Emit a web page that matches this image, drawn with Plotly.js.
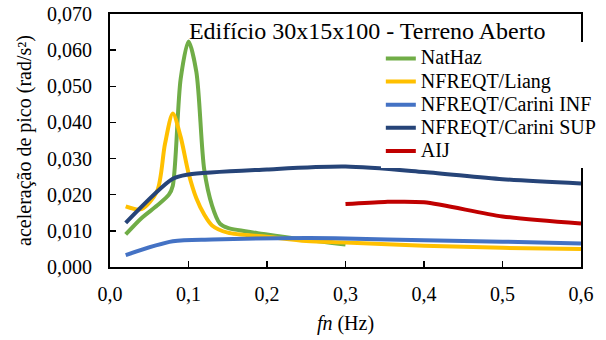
<!DOCTYPE html>
<html>
<head>
<meta charset="utf-8">
<script src="https://cdn.plot.ly/plotly-3.0.1.min.js"></script>
<style>html,body{margin:0;padding:0;background:#fff;}#chart{width:606px;height:340px;}
#warm{position:absolute;left:0;top:0;font-family:"Liberation Serif";font-size:20px;color:#fff;z-index:-1;}
#chart svg text{font-family:"Liberation Serif","Times New Roman",serif !important;}</style>
</head>
<body>
<div id="warm">Edifício 0,070 <i>fn</i> ²</div>
<div id="chart"></div>
<script>
// Series data (frequency in Hz, peak acceleration in rad/s2)
const natHazX = [0.02, 0.04, 0.06, 0.075, 0.08, 0.09, 0.10, 0.11, 0.12, 0.13, 0.14, 0.15, 0.20, 0.25, 0.30];
const natHazY = [0.0090, 0.0135, 0.0170, 0.0200, 0.0225, 0.0520, 0.0624, 0.0540, 0.0270, 0.0170, 0.0120, 0.0108, 0.0090, 0.0075, 0.0062];

const liangX = [0.02, 0.04, 0.06, 0.07, 0.08, 0.09, 0.10, 0.11, 0.12, 0.13, 0.15, 0.20, 0.25, 0.30, 0.40, 0.50, 0.60];
const liangY = [0.0168, 0.0160, 0.0210, 0.0340, 0.0425, 0.0360, 0.0260, 0.0190, 0.0145, 0.0115, 0.0095, 0.0084, 0.0072, 0.0068, 0.0059, 0.0053, 0.0050];

const infX = [0.02, 0.08, 0.13, 0.25, 0.30, 0.40, 0.50, 0.60];
const infY = [0.0033, 0.0071, 0.0076, 0.0080, 0.0079, 0.0074, 0.0070, 0.0065];

const supX = [0.02, 0.08, 0.10, 0.20, 0.30, 0.40, 0.50, 0.60];
const supY = [0.0122, 0.0244, 0.0256, 0.0270, 0.0278, 0.0263, 0.0243, 0.0231];

const aijX = [0.30, 0.35, 0.40, 0.50, 0.60];
const aijY = [0.0174, 0.0180, 0.0179, 0.0140, 0.0120];

const seriesNames = ["NatHaz", "NFREQT/Liang", "NFREQT/Carini INF", "NFREQT/Carini SUP", "AIJ"];
const seriesColors = ["#70AD47", "#FFC000", "#4472C4", "#264478", "#C00000"];

const xTickVals = [0, 0.1, 0.2, 0.3, 0.4, 0.5, 0.6];
const xTickText = ["0,0", "0,1", "0,2", "0,3", "0,4", "0,5", "0,6"];
const yTickVals = [0, 0.01, 0.02, 0.03, 0.04, 0.05, 0.06, 0.07];
const yTickText = ["0,000", "0,010", "0,020", "0,030", "0,040", "0,050", "0,060", "0,070"];

const xs = [natHazX, liangX, infX, supX, aijX];
const ys = [natHazY, liangY, infY, supY, aijY];

const FONT = "Liberation Serif";

function buildTraces() {
  return seriesNames.map((n, i) => ({
    type: "scatter",
    mode: "lines",
    name: '<span style="font-size:20px">' + n + '</span>',
    x: xs[i],
    y: ys[i],
    line: {color: seriesColors[i], width: 4, shape: "spline", smoothing: 0.8},
    hoverinfo: "skip"
  }));
}

function buildLayout() {
  return {
    width: 606, height: 340,
    margin: {l: 110, r: 25, t: 14, b: 73, autoexpand: false},
    paper_bgcolor: "#fff", plot_bgcolor: "#fff",
    font: {family: FONT, size: 20, color: "#000"},
    showlegend: true,
    title: {
      text: "Edifício 30x15x100 - Terreno Aberto",
      font: {family: FONT, size: 24, color: "#000"},
      x: 0.546, xref: "paper", xanchor: "center",
      y: 0.933, yref: "paper", yanchor: "middle"
    },
    xaxis: {
      range: [0, 0.6], tickmode: "array", tickvals: xTickVals, ticktext: xTickText,
      ticks: "inside", ticklen: 6, tickwidth: 1.5, tickcolor: "#000",
      showline: true, linecolor: "#000", linewidth: 2, mirror: true,
      showgrid: false, zeroline: false, automargin: false,
      tickfont: {family: FONT, size: 20},
      ticklabelstandoff: 8,
      title: {text: "<i>fn</i> (Hz)", font: {family: FONT, size: 20}, standoff: 12}
    },
    yaxis: {
      range: [0, 0.07], tickmode: "array", tickvals: yTickVals, ticktext: yTickText,
      ticks: "inside", ticklen: 6, tickwidth: 1.5, tickcolor: "#000",
      showline: true, linecolor: "#000", linewidth: 2, mirror: true,
      showgrid: false, zeroline: false, automargin: false,
      tickfont: {family: FONT, size: 20},
      ticklabelstandoff: 12,
      title: {text: "aceleração de pico (rad/s²)", font: {family: FONT, size: 20}, standoff: 10}
    },
    legend: {
      x: 0.575, xanchor: "left", y: 0.89, yanchor: "top",
      bgcolor: "#fff", borderwidth: 0,
      font: {family: FONT, size: 15.5, color: "#000"}
    }
  };
}

const gd = document.getElementById("chart");
Plotly.newPlot(gd, buildTraces(), buildLayout(), {staticPlot: true});

if (document.fonts && document.fonts.load) {
  Promise.all([
    document.fonts.load('20px "Liberation Serif"'),
    document.fonts.load('italic 20px "Liberation Serif"'),
    document.fonts.load('24px "Liberation Serif"')
  ]).catch(function () {}).then(function () {
    Plotly.purge(gd);
    return Plotly.newPlot(gd, buildTraces(), buildLayout(), {staticPlot: true});
  });
}
</script>
</body>
</html>
